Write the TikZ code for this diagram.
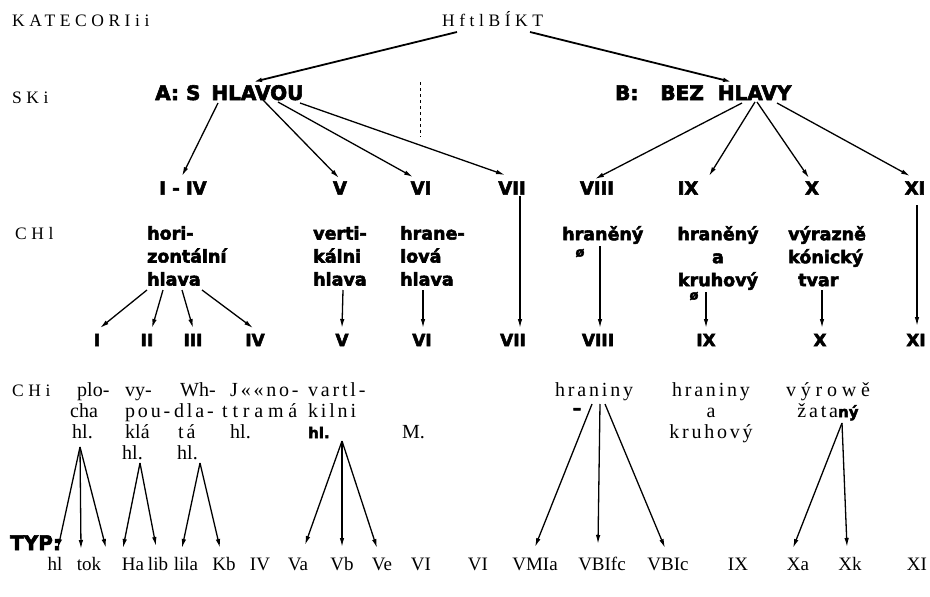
\documentclass[tikz,border=0pt]{standalone}
\usepackage{fontspec}
\setmainfont{Liberation Serif}
\newfontfamily\spA{Liberation Serif}[LetterSpace=26]
\newfontfamily\spC{Liberation Serif}[LetterSpace=14]
\newfontfamily\spD{Liberation Serif}[LetterSpace=24]
\newfontfamily\hvb{DejaVu Sans}[UprightFont={* Bold},FakeBold=3]
\newcommand{\tl}{\rule{0pt}{14pt}}
\newcommand{\tk}{\rule{0pt}{13pt}}
\usetikzlibrary{arrows.meta,calc}
\tikzset{
 lab/.style={font=\spA\fontsize{17.5}{19}\selectfont, inner sep=0, anchor=base west},
 hdr/.style={font=\hvb\fontsize{20}{22}\selectfont, inner sep=0, anchor=base west},
 num/.style={font=\hvb\fontsize{18}{20}\selectfont, inner sep=0},
 num2/.style={font=\hvb\fontsize{17}{20}\selectfont, inner sep=0},
 kind/.style={font=\hvb\fontsize{17.5}{23}\selectfont, inner sep=0, anchor=north west, align=left},
 desc/.style={font=\fontsize{20}{21}\selectfont, inner sep=0, anchor=north west, align=left},
 descb/.style={font=\fontsize{20}{21}\selectfont, inner sep=0, anchor=base west},
 typ/.style={font=\fontsize{19}{21}\selectfont, inner sep=0, anchor=base},
 arr/.style={-{Latex[length=9pt,width=4.5pt]}, line width=1.3pt},
 arrT/.style={arr, line width=1.8pt},
}
\begin{document}
\begin{tikzpicture}[x=1pt,y=-1pt]
\fill[white] (0,0) rectangle (930,597);
\useasboundingbox (0,0) rectangle (930,597);
% left labels
\node[lab] (kat) at (12,26) {KATECORIii};
\node[lab] (ski) at (12,103) {SKi};
\node[lab] (chl) at (15,239) {CHl};
\node[lab] (chi) at (12,396) {CHi};
\node[hdr] (typ) at (10,550) {TYP:};
% root
\node[lab] (hft) at (442,26) {HftlBÍKT};
\node[hdr] (A) at (155,100) {A:\hspace{7pt}S\hspace{11pt}HLAVOU};
\node[hdr] (B) at (615,100) {B:\hspace{22pt}BEZ\hspace{14pt}HLAVY};
\draw[arrT] ($(hft.base west)+(15,6)$) -- ($(A.base west)+(98,-18)$);
\draw[arrT] ($(hft.base west)+(88,6)$) -- ($(B.base west)+(117,-18)$);
\draw[dashed, line width=0.6pt] (420,82) -- (420,137);
% level 3
\node[num] (n14) at (183,188) {I - IV};
\node[num] (n5) at (340,188) {V};
\node[num] (n6) at (421,188) {VI};
\node[num] (n7) at (512,188) {VII};
\node[num] (n8) at (597,188) {VIII};
\node[num] (n9) at (688,188) {IX};
\node[num] (n10) at (812,188) {X};
\node[num] (n11) at (915,188) {XI};
\draw[arr] ($(A.base west)+(63,3)$) -- ($(n14.center)+(-1,-12)$);
\draw[arr] ($(A.base west)+(108,0)$) -- ($(n5.center)+(-1,-10)$);
\draw[arr] ($(A.base west)+(123,2)$) -- ($(n6.center)+(-8,-11)$);
\draw[arr] ($(A.base west)+(145,3)$) -- ($(n7.center)+(-7,-13)$);
\draw[arr] ($(B.base west)+(127,3)$) -- ($(n8.center)+(-2,-9)$);
\draw[arr] ($(B.base west)+(140,2)$) -- ($(n9.center)+(21,-12)$);
\draw[arr] ($(B.base west)+(142,2)$) -- ($(n10.center)+(-3,-10)$);
\draw[arr] ($(B.base west)+(162,3)$) -- ($(n11.center)+(-5,-12)$);
% level 4
\node[kind] (c1) at (147,226) {\tk hori-\\zontální\\hlava};
\node[kind] (c2) at (313,226) {\tk verti-\\kálni\\hlava};
\node[kind] (c3) at (400,226) {\tk hrane-\\lová\\hlava};
\node[kind] (c4) at (562,226) {\tk hraněný};
\node[num2, font=\hvb\fontsize{13}{14}\selectfont] (o1) at (580,253) {ø};
\node[kind, align=center, anchor=north] (c5) at (718,226) {\tk hraněný\\a\\kruhový};
\node[num2, font=\hvb\fontsize{13}{14}\selectfont] (o2) at (694,296) {ø};
\node[kind] (c6) at (788,226) {\tk výrazně\\kónický\\\hspace*{10pt}tvar};
% level 5
\node[num2] (r1) at (97,340) {I};
\node[num2] (r2) at (147,340) {II};
\node[num2] (r3) at (193,340) {III};
\node[num2] (r4) at (255,340) {IV};
\node[num2] (r5) at (342,340) {V};
\node[num2] (r6) at (422,340) {VI};
\node[num2] (r7) at (513,340) {VII};
\node[num2] (r8) at (598,340) {VIII};
\node[num2] (r9) at (706,340) {IX};
\node[num2] (r10) at (820,340) {X};
\node[num2] (r11) at (916,340) {XI};
\draw[arr] ($(c1.north west)+(0,64)$) -- ($(r1.center)+(3,-12)$);
\draw[arr] ($(c1.north west)+(16,64)$) -- ($(r2.center)+(5,-12)$);
\draw[arr] ($(c1.north west)+(35,64)$) -- ($(r3.center)+(0,-12)$);
\draw[arr] ($(c1.north west)+(55,64)$) -- ($(r4.center)+(-2,-12)$);
\draw[arr] ($(c2.north west)+(30,64)$) -- ($(r5.center)+(0,-12)$);
\draw[arr] ($(c3.north west)+(23,64)$) -- ($(r6.center)+(1,-12)$);
\draw[arr] ($(n7.center)+(8,8)$) -- ($(r7.center)+(7,-12)$);
\draw[arr] ($(c4.north west)+(38,20)$) -- ($(r8.center)+(2,-12)$);
\draw[arr] ($(c5.north)+(-12,66)$) -- ($(r9.center)+(0,-12)$);
\draw[arr] ($(c6.north west)+(34,64)$) -- ($(r10.center)+(2,-12)$);
\draw[arr] ($(n11.center)+(2,17)$) -- ($(r11.center)+(1,-14)$);
% level 6
\node[desc] (m1) at (70,382) {\tl\hspace*{7pt}plo-\\cha\\\hspace*{2pt}hl.};
\node[desc] (m2) at (125,382) {\tl vy-\\{\spC pou-}\\klá\\\hspace*{-3pt}hl.};
\node[desc] (m3) at (174,382) {\tl\hspace*{6pt}Wh-\\{\spC dla-}\\\hspace*{4pt}{\spC tá}\\\hspace*{3pt}hl.};
\node[desc] (m4) at (222,382) {\tl\hspace*{8pt}{\spC J««no-}\\{\spD ttramá}\\\hspace*{8pt}hl.};
\node[desc] (m5) at (308,382) {\tl{\spC vartl-}\\{\spC kilni}\\{\hvb\fontsize{15}{21}\selectfont hl.}};
\node[descb] (m6) at (402,438) {M.};
\node[descb, font=\spC\fontsize{20}{21}\selectfont] (m7) at (555,396) {hraniny};
\node[num2] (dsh) at (577,411) {–};
\node[desc, align=center, anchor=north] (m8) at (711,382) {\tl{\spC hraniny}\\a\\{\spC kruhový}};
\node[desc, align=center, anchor=north] (m9) at (828,382) {\tl{\spD výrowě}\\{\spC žata}{\hvb\fontsize{15}{21}\selectfont ný}};
% bottom
\node[typ] (t1) at (55,570) {hl};
\node[typ] (t2) at (89,570) {tok};
\node[typ] (t3) at (133,570) {Ha};
\node[typ] (t4) at (158,570) {lib};
\node[typ] (t5) at (186,570) {lila};
\node[typ] (t6) at (224,570) {Kb};
\node[typ] (t7) at (260,570) {IV};
\node[typ] (t8) at (298,570) {Va};
\node[typ] (t9) at (342,570) {Vb};
\node[typ] (t10) at (382,570) {Ve};
\node[typ] (t11) at (421,570) {VI};
\node[typ] (t12) at (478,570) {VI};
\node[typ] (t13) at (535,570) {VMIa};
\node[typ] (t14) at (602,570) {VBIfc};
\node[typ] (t15) at (668,570) {VBIc};
\node[typ] (t16) at (738,570) {IX};
\node[typ] (t17) at (798,570) {Xa};
\node[typ] (t18) at (850,570) {Xk};
\node[typ] (t19) at (917,570) {XI};
\draw[arr] ($(m1.north west)+(10,65)$) -- ($(t1.base)+(3,-22)$);
\draw[arr] ($(m1.north west)+(10,65)$) -- ($(t2.base)+(-8,-21)$);
\draw[arr] ($(m1.north west)+(10,65)$) -- ($(t2.base)+(17,-22)$);
\draw[arr] ($(m2.north west)+(15,81)$) -- ($(t3.base)+(-10,-22)$);
\draw[arr] ($(m2.north west)+(15,81)$) -- ($(t4.base)+(-2,-24)$);
\draw[arr] ($(m3.north west)+(26,81)$) -- ($(t5.base)+(-4,-22)$);
\draw[arr] ($(m3.north west)+(26,81)$) -- ($(t6.base)+(-4,-22)$);
\draw[arr] ($(m5.north west)+(34,59)$) -- ($(t8.base)+(7,-25)$);
\draw[arr] ($(m5.north west)+(34,59)$) -- ($(t9.base)+(0,-23)$);
\draw[arr] ($(m5.north west)+(34,59)$) -- ($(t10.base)+(-5,-22)$);
\draw[arr] ($(m7.base west)+(37,8)$) -- ($(t13.base)+(0,-23)$);
\draw[arr] ($(m7.base west)+(45,8)$) -- ($(t14.base)+(-4,-26)$);
\draw[arr] ($(m7.base west)+(50,8)$) -- ($(t15.base)+(-3,-22)$);
\draw[arr] ($(m9.north)+(14,41)$) -- ($(t17.base)+(-5,-22)$);
\draw[arr] ($(m9.north)+(14,41)$) -- ($(t18.base)+(-3,-23)$);
\end{tikzpicture}
\end{document}
